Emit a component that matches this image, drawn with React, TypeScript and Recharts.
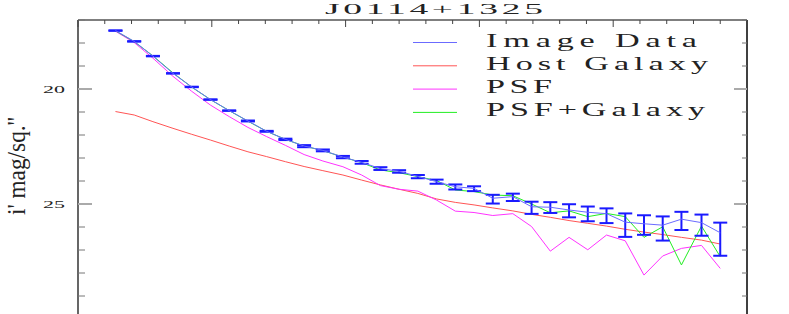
import React from "react";
import { LineChart, Line, XAxis, YAxis, ErrorBar, ReferenceLine, Legend } from "recharts";

// radius (arcsec) of each annulus
const radius = [0.28, 0.42, 0.56, 0.71, 0.85, 0.99, 1.13, 1.27, 1.41, 1.55, 1.69, 1.83, 1.98, 2.12, 2.26, 2.4, 2.54, 2.68, 2.82, 2.96, 3.1, 3.25, 3.39, 3.53, 3.67, 3.81, 3.95, 4.09, 4.23, 4.37, 4.51, 4.66, 4.8];

const imageData = [17.46, 17.93, 18.57, 19.32, 19.91, 20.46, 20.94, 21.39, 21.84, 22.19, 22.48, 22.67, 22.96, 23.19, 23.46, 23.58, 23.8, 24.03, 24.25, 24.32, 24.75, 24.68, 25.12, 25.14, 25.26, 25.36, 25.42, 25.79, 25.86, 25.92, 25.66, 25.81, 26.25];
const errUp = [0.01, 0.01, 0.01, 0.01, 0.01, 0.01, 0.01, 0.02, 0.02, 0.03, 0.04, 0.04, 0.05, 0.06, 0.06, 0.05, 0.06, 0.09, 0.1, 0.09, 0.15, 0.13, 0.22, 0.22, 0.25, 0.25, 0.23, 0.38, 0.37, 0.38, 0.32, 0.35, 0.44];
const errDown = [0.01, 0.01, 0.01, 0.01, 0.01, 0.01, 0.01, 0.02, 0.02, 0.03, 0.05, 0.04, 0.05, 0.06, 0.06, 0.06, 0.08, 0.09, 0.12, 0.12, 0.23, 0.19, 0.31, 0.25, 0.32, 0.39, 0.41, 0.64, 0.48, 0.67, 0.47, 0.57, 1.0];
const hostGalaxy = [20.98, 21.13, 21.42, 21.71, 21.97, 22.22, 22.48, 22.73, 22.94, 23.16, 23.37, 23.55, 23.74, 23.96, 24.17, 24.36, 24.54, 24.78, 24.93, 25.04, 25.17, 25.3, 25.45, 25.58, 25.72, 25.84, 25.96, 26.1, 26.22, 26.33, 26.45, 26.57, 26.74];
const psf = [17.49, 17.98, 18.66, 19.45, 20.1, 20.7, 21.2, 21.67, 22.07, 22.45, 22.85, 23.13, 23.38, 23.74, 24.2, 24.36, 24.44, 24.83, 25.31, 25.37, 25.5, 25.42, 25.98, 27.05, 26.45, 26.99, 26.35, 26.6, 28.09, 27.26, 26.93, 26.8, 27.8];
const psfGalaxy = [17.47, 17.94, 18.56, 19.3, 19.92, 20.46, 20.94, 21.4, 21.84, 22.19, 22.48, 22.68, 22.96, 23.2, 23.52, 23.64, 23.81, 23.98, 24.39, 24.46, 24.61, 24.64, 25.0, 25.38, 25.3, 25.55, 25.41, 25.55, 26.45, 25.99, 27.65, 25.96, 27.29];

const xTicks = [0, 0.2, 0.4, 0.6, 0.8, 1, 1.2, 1.4, 1.6, 1.8, 2, 2.2, 2.4, 2.6, 2.8, 3, 3.2, 3.4, 3.6, 3.8, 4, 4.2, 4.4, 4.6, 4.8, 5];
const yTicks = [17, 18, 19, 20, 21, 22, 23, 24, 25, 26, 27, 28, 29, 30];
const yMajor = [20, 25, 30];
const yLabels = [20, 25]; // 30 sits below the visible area

const legendItems = [
  { name: "Image Data", color: "#6b6bff", w: 211 },
  { name: "Host Galaxy", color: "#ff5555", w: 222 },
  { name: "PSF", color: "#ff33ff", w: 66 },
  { name: "PSF+Galaxy", color: "#22ee22", w: 219 },
];

const data = radius.map((r, i) => ({
  r,
  img: imageData[i],
  err: [errUp[i], errDown[i]],
  host: hostGalaxy[i],
  psf: psf[i],
  model: psfGalaxy[i],
}));

const FONT = "'Liberation Serif', 'DejaVu Serif', serif";
const TOP = 20;
const LEFT = 78;
const RIGHT = 747;

const TopTick = (props: any) => {
  const { x, payload } = props;
  const major = Math.abs(payload.value - Math.round(payload.value)) < 1e-6;
  return <line x1={x} x2={x} y1={TOP} y2={TOP + (major ? 7 : 4)} stroke="#444" strokeWidth={1} />;
};

const LeftTick = (props: any) => {
  const { y, payload } = props;
  const major = yMajor.includes(payload.value);
  return (
    <g>
      <line x1={LEFT} x2={LEFT + (major ? 14 : 7)} y1={y} y2={y} stroke={major ? "#aaa" : "#777"} strokeWidth={major ? 2 : 1} />
      <line x1={RIGHT} x2={RIGHT - (major ? 13 : 5)} y1={y} y2={y} stroke={major ? "#aaa" : "#777"} strokeWidth={major ? 2 : 1} />
      {yLabels.includes(payload.value) && (
        <text transform={`translate(54,${y + 3.5}) scale(2.2,1)`} textAnchor="middle" fontSize={10} fontFamily={FONT} fill="#222">
          {payload.value}
        </text>
      )}
    </g>
  );
};

const renderLegend = () => (
  <svg width={789} height={130} style={{ pointerEvents: "none" }}>
    {legendItems.map((it, i) => {
      const y = 42.5 + i * 23.3;
      return (
        <g key={it.name}>
          <line x1={413} x2={457} y1={y} y2={y} stroke={it.color} strokeWidth={1} />
          <text
            transform={`translate(486,${y + 4}) scale(1.9,1)`}
            fontSize={18}
            fontFamily={FONT}
            fill="#222"
            textLength={it.w / 1.9}
            lengthAdjust="spacing"
          >
            {it.name}
          </text>
        </g>
      );
    })}
  </svg>
);

export default function App() {
  return (
    <div style={{ position: "absolute", left: 0, top: 0, width: 789, height: 314, overflow: "hidden", background: "#fff" }}>
      <LineChart width={789} height={330} data={data} margin={{ top: TOP - 2, left: LEFT - 2, right: 789 - RIGHT, bottom: 11 }}>
        <XAxis
          dataKey="r"
          type="number"
          orientation="top"
          domain={[0, 5]}
          ticks={xTicks}
          height={2}
          tickLine={false}
          axisLine={{ stroke: "#000", strokeWidth: 1.2 }}
          tick={<TopTick />}
          interval={0}
        />
        <YAxis
          type="number"
          domain={[17, 30]}
          reversed
          ticks={yTicks}
          width={2}
          tickLine={false}
          axisLine={{ stroke: "#000", strokeWidth: 1.2 }}
          tick={<LeftTick />}
          interval={0}
        />
        <ReferenceLine x={5} stroke="#000" strokeWidth={1.5} />
        <ReferenceLine y={30} stroke="#000" strokeWidth={1.2} />
        <Line dataKey="host" stroke="#ff5555" strokeWidth={1} dot={false} isAnimationActive={false} />
        <Line dataKey="psf" stroke="#ff33ff" strokeWidth={1} dot={false} isAnimationActive={false} />
        <Line dataKey="model" stroke="#22ee22" strokeWidth={1} dot={false} isAnimationActive={false} />
        <Line dataKey="img" stroke="#6b6bff" strokeWidth={1} dot={false} isAnimationActive={false}>
          <ErrorBar dataKey="err" direction="y" width={7} stroke="#1a1aff" strokeWidth={2} isAnimationActive={false} />
        </Line>
        <Legend layout="vertical" align="center" verticalAlign="middle" content={renderLegend} wrapperStyle={{ left: 0, top: 0, width: 789, height: 130 }} />
      </LineChart>
      <svg width={789} height={314} style={{ position: "absolute", left: 0, top: 0, pointerEvents: "none" }}>
        <text transform="translate(325,13.5) scale(2.5,1)" fontSize={15} fontFamily={FONT} fill="#222" textLength={218 / 2.5} lengthAdjust="spacing">
          J0114+1325
        </text>
        <text transform="translate(25,166) rotate(-90)" textAnchor="middle" fontSize={26} fontFamily={FONT} fill="#222" textLength={98} lengthAdjust="spacingAndGlyphs">
          i' mag/sq.''
        </text>
      </svg>
    </div>
  );
}
